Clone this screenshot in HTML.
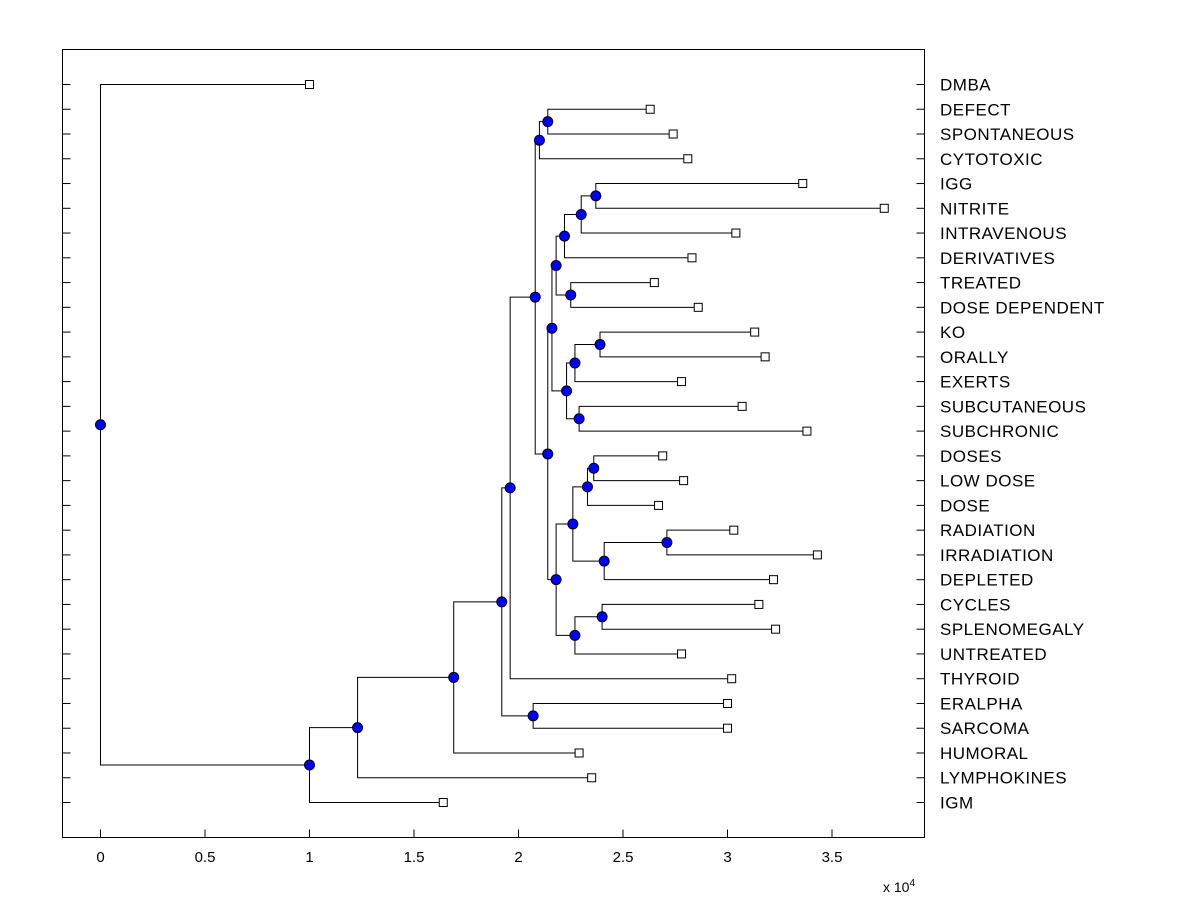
<!DOCTYPE html>
<html><head><meta charset="utf-8"><style>
html,body{margin:0;padding:0;background:#fff;}
svg text{font-family:"Liberation Sans",Arial,sans-serif;}
</style></head><body>
<svg id="chart" width="1200" height="900" viewBox="0 0 1200 900" xmlns="http://www.w3.org/2000/svg">
<rect x="0" y="0" width="1200" height="900" fill="#fff"/>
<rect x="62.5" y="49.5" width="862" height="788" fill="none" stroke="#000" stroke-width="1"/>
<g id="ticks"></g><g id="links"></g><g id="marks"></g><g id="labels"></g>
<text x="883" y="892" font-size="14">x 10<tspan dy="-6" font-size="10">4</tspan></text>
</svg>
<script>
const leafNames=["DMBA","DEFECT","SPONTANEOUS","CYTOTOXIC","IGG","NITRITE","INTRAVENOUS","DERIVATIVES","TREATED","DOSE DEPENDENT","KO","ORALLY","EXERTS","SUBCUTANEOUS","SUBCHRONIC","DOSES","LOW DOSE","DOSE","RADIATION","IRRADIATION","DEPLETED","CYCLES","SPLENOMEGALY","UNTREATED","THYROID","ERALPHA","SARCOMA","HUMORAL","LYMPHOKINES","IGM"];
const leafValues=[1.0,2.63,2.74,2.81,3.36,3.75,3.04,2.83,2.65,2.86,3.13,3.18,2.78,3.07,3.38,2.69,2.79,2.67,3.03,3.43,3.22,3.15,3.23,2.78,3.02,3.0,3.0,2.29,2.35,1.64];
const mergeLeft =[1,"n0",4,"n2",8,"n3","n4",10,"n7",13,"n8","n6",15,"n12",18,"n14","n13",21,"n17","n16","n11","n1","n21",25,"n22","n24","n25","n26",0];
const mergeRight=[2,3,5,6,9,7,"n5",11,12,14,"n9","n10",16,17,19,20,"n15",22,23,"n18","n19","n20",24,26,"n23",27,28,29,"n27"];
const mergeValues=[2.14,2.10,2.37,2.30,2.25,2.22,2.18,2.39,2.27,2.29,2.23,2.16,2.36,2.33,2.71,2.41,2.26,2.40,2.27,2.18,2.14,2.08,1.96,2.07,1.92,1.69,1.23,1.0,0];
const xTicks=[0,0.5,1,1.5,2,2.5,3,3.5];
</script>
<script>
const sx=v=>100.5+v*209;
const rowY=i=>84.5+i*(802-84)/29;
const NS="http://www.w3.org/2000/svg";
function mk(tag,attrs,parent){const e=document.createElementNS(NS,tag);for(const k in attrs)e.setAttribute(k,attrs[k]);document.getElementById(parent).appendChild(e);return e;}
const nodeY={},nodeX={};
function pos(c){if(typeof c==="number")return {x:sx(leafValues[c]),y:rowY(c)};return {x:nodeX[c],y:nodeY[c]};}
for(let i=0;i<leafNames.length;i++){
 const y=rowY(i);
 let t=mk("line",{x1:62.5,x2:70.5,y1:y,y2:y,stroke:"#000"},"ticks");
 
 
 t=mk("line",{x1:916.5,x2:924.5,y1:y,y2:y,stroke:"#000"},"ticks");
 
 
 const lb=mk("text",{x:940,y:y+6,"font-size":17,"letter-spacing":0.5,fill:"#000"},"labels");
 lb.textContent=leafNames[i];
 
 
}
xTicks.forEach(v=>{
 const x=sx(v);
 const t=mk("line",{x1:x,x2:x,y1:837.5,y2:829.5,stroke:"#000"},"ticks");
 
 
 const lb=mk("text",{x:x,y:862,"font-size":15,"text-anchor":"middle"},"labels");
 lb.textContent=String(v);
 
 
});
mergeValues.forEach((v,i)=>{
 const a=pos(mergeLeft[i]),b=pos(mergeRight[i]);const x=sx(v);const y=(a.y+b.y)/2;
 nodeX["n"+i]=x;nodeY["n"+i]=y;
 const p=mk("path",{d:`M${a.x},${a.y}H${x}V${b.y}H${b.x}`,fill:"none",stroke:"#000","stroke-width":1},"links");
 
 
});
leafValues.forEach((v,i)=>{
 const r=mk("rect",{x:sx(v)-4,y:rowY(i)-4,width:8,height:8,fill:"#fff",stroke:"#000"},"marks");
 
 
});
mergeValues.forEach((v,i)=>{
 const c=mk("circle",{cx:nodeX["n"+i],cy:nodeY["n"+i],r:5,fill:"#0000ff",stroke:"#000","stroke-width":1},"marks");
 
 
});
</script>
</body></html>
